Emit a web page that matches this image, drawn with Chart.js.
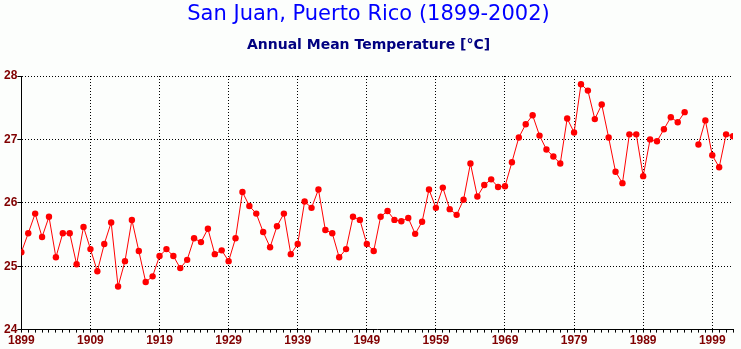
<!DOCTYPE html>
<html>
<head>
<meta charset="utf-8">
<script src="https://cdn.jsdelivr.net/npm/chart.js@4/dist/chart.umd.min.js"></script>
<style>
  html, body { margin: 0; padding: 0; background: #fcfefc; }
  canvas { display: block; }
</style>
</head>
<body>
<canvas id="tempChart" width="741" height="349"></canvas>
<script>
// --- Data: San Juan annual mean temperature, 1899-2002 (1996 missing) ---
const years = [
    1899, 1900, 1901, 1902, 1903, 1904, 1905, 1906, 1907, 1908,
    1909, 1910, 1911, 1912, 1913, 1914, 1915, 1916, 1917, 1918,
    1919, 1920, 1921, 1922, 1923, 1924, 1925, 1926, 1927, 1928,
    1929, 1930, 1931, 1932, 1933, 1934, 1935, 1936, 1937, 1938,
    1939, 1940, 1941, 1942, 1943, 1944, 1945, 1946, 1947, 1948,
    1949, 1950, 1951, 1952, 1953, 1954, 1955, 1956, 1957, 1958,
    1959, 1960, 1961, 1962, 1963, 1964, 1965, 1966, 1967, 1968,
    1969, 1970, 1971, 1972, 1973, 1974, 1975, 1976, 1977, 1978,
    1979, 1980, 1981, 1982, 1983, 1984, 1985, 1986, 1987, 1988,
    1989, 1990, 1991, 1992, 1993, 1994, 1995, 1996, 1997, 1998,
    1999, 2000, 2001, 2002
];

const meanTemp = [
    25.22, 25.52, 25.83, 25.46, 25.78, 25.14, 25.52, 25.52, 25.03, 25.62,
    25.27, 24.92, 25.35, 25.69, 24.68, 25.08, 25.73, 25.24, 24.75, 24.84,
    25.16, 25.27, 25.16, 24.97, 25.10, 25.44, 25.38, 25.59, 25.19, 25.25,
    25.08, 25.44, 26.17, 25.95, 25.83, 25.54, 25.30, 25.63, 25.83, 25.19,
    25.35, 26.02, 25.92, 26.21, 25.57, 25.52, 25.14, 25.27, 25.78, 25.73,
    25.35, 25.24, 25.78, 25.87, 25.73, 25.71, 25.76, 25.51, 25.70, 26.21,
    25.92, 26.24, 25.90, 25.81, 26.05, 26.62, 26.10, 26.28, 26.37, 26.25,
    26.26, 26.64, 27.03, 27.24, 27.38, 27.06, 26.84, 26.73, 26.62, 27.33,
    27.11, 27.87, 27.77, 27.32, 27.55, 27.03, 26.49, 26.31, 27.08, 27.08,
    26.42, 27.00, 26.97, 27.16, 27.35, 27.27, 27.43, null, 26.92, 27.30,
    26.75, 26.56, 27.08, 27.05
];

// decade marks carry a label and a dotted grid line
const decadeYears = [1909, 1919, 1929, 1939, 1949, 1959, 1969, 1979, 1989, 1999];
const labelYears = [1899].concat(decadeYears);
const tempTicks = [24, 25, 26, 27, 28];

const labelFont = { family: "'Liberation Sans', Arial, sans-serif", size: 12, weight: 'bold' };
const labelColor = '#800000';
const clear = 'rgba(0,0,0,0)';

const points = years.map((y, i) => ({ x: y, y: meanTemp[i] }));

new Chart(document.getElementById('tempChart'), {
    type: 'line',
    data: {
        datasets: [{
            data: points,
            borderColor: '#ff0000',
            backgroundColor: '#ff0000',
            borderWidth: 1,
            pointRadius: 3.2,
            pointHoverRadius: 3.2,
            pointBorderWidth: 0,
            spanGaps: false,
            tension: 0
        }]
    },
    options: {
        responsive: false,
        animation: false,
        layout: { padding: { left: 4, right: 8, bottom: 0, top: 0 } },
        plugins: {
            legend: { display: false },
            tooltip: { enabled: false },
            title: {
                display: true,
                text: 'San Juan, Puerto Rico (1899-2002)',
                color: '#0000ff',
                font: { family: "'DejaVu Sans', sans-serif", size: 21, weight: 'normal' },
                padding: { top: 2, bottom: 6 }
            },
            subtitle: {
                display: true,
                text: 'Annual Mean Temperature [°C]',
                color: '#000080',
                font: { family: "'DejaVu Sans', sans-serif", size: 14, weight: 'bold' },
                padding: { top: 4, bottom: 22 }
            }
        },
        scales: {
            x: {
                type: 'linear',
                min: years[0],
                max: years[years.length - 1],
                afterBuildTicks: (axis) => {
                    axis.ticks = years.map(v => ({ value: v }));
                },
                ticks: {
                    autoSkip: false,
                    maxRotation: 0,
                    padding: 1,
                    color: labelColor,
                    font: labelFont,
                    callback: (v) => labelYears.includes(v) ? String(v) : ''
                },
                grid: {
                    color: (c) => c.tick && decadeYears.includes(c.tick.value) ? '#000000' : clear,
                    tickColor: '#000000',
                    tickLength: 3,
                    lineWidth: 1,
                    tickBorderDash: []
                },
                // border.dash sets the dotted grid; the axis line itself stays solid
                border: { display: true, color: '#000000', width: 1, dash: [1, 2] }
            },
            y: {
                min: 24,
                max: 28,
                afterBuildTicks: (axis) => {
                    axis.ticks = tempTicks.map(v => ({ value: v }));
                },
                ticks: {
                    padding: 0,
                    color: labelColor,
                    font: labelFont
                },
                grid: {
                    color: (c) => c.tick && c.tick.value > 24 ? '#000000' : clear,
                    tickColor: '#000000',
                    tickLength: 4,
                    lineWidth: 1,
                    tickBorderDash: []
                },
                border: { display: true, color: '#000000', width: 1, dash: [1, 2] }
            }
        }
    }
});
</script>
</body>
</html>
